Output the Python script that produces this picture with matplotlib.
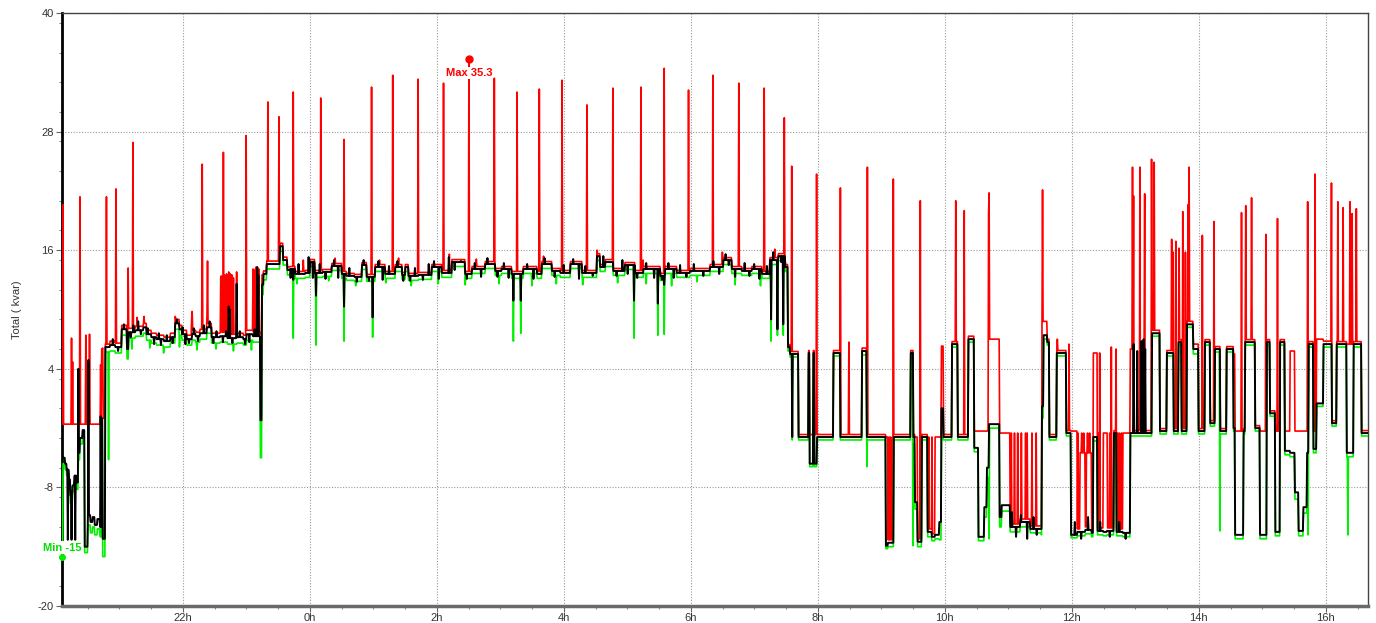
import numpy as np
import matplotlib
matplotlib.use("Agg")
import matplotlib.pyplot as plt
from matplotlib.ticker import MultipleLocator, FixedLocator, FuncFormatter

# ---------------------------------------------------------------------------
# Reactive power, total (kvar).  Time in hours; values past 24 are next day.
# Step knots: each value holds until the next knot time.
# ---------------------------------------------------------------------------
knot_hour = [
    # evening, unsettled
    20.098, 20.110, 20.140, 20.170, 20.200, 20.230, 20.260, 20.290, 20.320, 20.350,
    20.380, 20.420, 20.455, 20.500, 20.540, 20.580, 20.610, 20.650, 20.690, 20.720,
    20.735, 20.775,
    # evening plateau
    20.850, 20.932, 21.038, 21.117, 21.140, 21.250, 21.378, 21.431, 21.500, 21.589,
    21.700, 21.800, 21.877, 21.940, 21.982, 22.061, 22.140, 22.200, 22.271, 22.376,
    22.455, 22.586, 22.700, 22.849, 22.950, 23.006, 23.100, 23.216, 23.240, 23.268,
    23.321, 23.531, 23.573, 23.640,
    # night plateau
    23.688, 23.766, 23.924, 24.003, 24.081, 24.200, 24.344, 24.501, 24.580, 24.700,
    24.816, 24.895, 25.026, 25.184, 25.341, 25.451, 25.500, 25.551, 25.709, 25.919,
    26.076, 26.234, 26.443, 26.548, 26.758, 26.916, 27.021, 27.178, 27.363, 27.573,
    27.652, 27.809, 27.940, 28.098, 28.282, 28.518, 28.570, 28.650, 28.780, 28.964,
    29.121, 29.253, 29.515, 29.594, 29.777, 29.987, 30.302, 30.512, 30.644, 30.801,
    30.958, 31.116, 31.247, 31.380, 31.483,
    # daytime switching
    31.525, 31.560, 31.693, 31.855, 31.870, 31.930, 31.940, 31.982, 32.245, 32.350,
    32.690, 32.770, 33.068, 33.100, 33.190, 33.462, 33.504, 33.530, 33.572, 33.636,
    33.730, 33.793, 33.846, 33.910, 33.940, 33.977, 34.108, 34.203, 34.370, 34.460,
    34.528, 34.617, 34.659, 34.690, 34.858, 34.895, 35.026, 35.184, 35.341, 35.525,
    35.551, 35.614, 35.646, 35.761, 35.908, 35.982, 36.087, 36.129, 36.207, 36.223,
    36.312, 36.339, 36.402, 36.496, 36.548, 36.664, 36.706, 36.800, 36.916, 36.968,
    37.257, 37.388, 37.493, 37.598, 37.677, 37.730, 37.808, 37.913, 37.992, 38.097,
    38.175, 38.254, 38.333, 38.438, 38.543, 38.569, 38.700, 38.727, 38.884, 38.963,
    39.068, 39.120, 39.199, 39.278, 39.356, 39.435, 39.514, 39.566, 39.645, 39.698,
    39.724, 39.803, 39.855, 39.960, 40.091, 40.170, 40.327, 40.433, 40.564,
]

knot_min = [
    -15.0, -5.6, -6.2, -6.8, -7.8, -9.6, -8.4, -7.4, -8.2, -5.2,
    -3.6, -2.8, -14.6, -11.8, -12.6, -12.0, -12.8, -12.2, -13.0, -1.6,
    -15.0, 5.7,
    5.8, 5.6, 7.4, 5.0, 7.1, 7.3, 7.6, 6.9, 6.6, 6.4,
    6.2, 6.6, 8.0, 7.4, 6.9, 6.4, 6.9, 6.7, 7.0, 7.6,
    6.6, 6.7, 6.5, 6.6, 6.4, 6.9, 6.7, -5.0, 11.5, 13.0,
    14.1, 15.9, 14.5, 13.5,
    13.65, 13.15, 13.25, 14.35, 13.25, 13.35, 13.95, 13.15, 12.95, 12.85,
    14.05, 12.85, 13.85, 13.15, 13.85, 13.05, 13.85, 12.95, 13.05, 13.85,
    13.25, 14.35, 13.15, 13.65, 14.15, 13.45, 13.65, 13.15, 13.65, 13.15,
    14.15, 13.45, 13.25, 14.15, 13.25, 14.95, 13.85, 14.35, 13.45, 14.05,
    13.25, 13.65, 12.95, 13.65, 13.25, 13.45, 13.85, 14.55, 13.65, 13.45,
    13.65, 13.15, 14.55, 14.95, 13.85,
    5.8, 5.2, -3.2, 5.3, -5.9, 5.3, -5.9, -3.2, 5.3, -3.2,
    5.4, -3.2, -14.2, -14.0, -3.2, 5.3, -3.6, -10.2, -14.0, -3.2,
    -13.0, -13.4, -13.2, -13.3, -3.0, -3.2, 6.2, -3.2, 6.7, -4.4,
    -13.4, -11.0, -7.0, -2.0, -12.0, -10.4, -12.5, -12.0, -12.6, -1.0,
    7.0, 6.4, -3.2, 5.3, -2.8, -13.1, -12.9, -12.9, -12.7, -12.7,
    -13.0, -3.3, -12.8, -12.9, -12.8, -2.8, -12.9, -13.0, -2.8, -2.8,
    7.3, -2.6, 5.3, -2.6, 6.4, -2.6, 8.2, 5.5, -2.6, 6.4,
    -1.8, 5.7, -2.6, 5.7, -2.3, -13.2, -2.6, 6.4, -2.3, -13.2,
    6.4, -0.8, -12.9, 6.4, -4.7, -4.9, -9.2, -12.9, -10.6, -5.2,
    6.2, -4.5, 0.2, 6.2, -1.8, 6.2, -4.9, 6.2, -2.8,
]

knot_avg = [
    -4.8, -5.0, -5.6, -6.2, -7.2, -8.8, -7.8, -6.8, -7.5, -4.5,
    -3.0, -2.2, -14.0, -10.8, -11.5, -11.0, -11.8, -11.2, -12.0, -1.0,
    -13.2, 6.2,
    6.4, 6.2, 8.0, 6.0, 7.7, 7.9, 8.2, 7.5, 7.2, 7.0,
    6.8, 7.2, 8.6, 8.0, 7.5, 7.0, 7.5, 7.3, 7.6, 8.2,
    7.2, 7.3, 7.1, 7.2, 7.0, 7.5, 7.3, -1.2, 12.5, 13.6,
    14.6, 16.4, 15.0, 14.0,
    14.1, 13.6, 13.7, 14.8, 13.7, 13.8, 14.4, 13.6, 13.4, 13.3,
    14.5, 13.3, 14.3, 13.6, 14.3, 13.5, 14.3, 13.4, 13.5, 14.3,
    13.7, 14.8, 13.6, 14.1, 14.6, 13.9, 14.1, 13.6, 14.1, 13.6,
    14.6, 13.9, 13.7, 14.6, 13.7, 15.4, 14.3, 14.8, 13.9, 14.5,
    13.7, 14.1, 13.4, 14.1, 13.7, 13.9, 14.3, 15.0, 14.1, 13.9,
    14.1, 13.6, 15.0, 15.4, 14.3,
    6.2, 5.5, -2.9, 5.6, -5.6, 5.6, -5.6, -2.9, 5.6, -2.9,
    5.8, -2.9, -13.9, -13.6, -2.9, 5.6, -2.9, -9.5, -13.5, -2.9,
    -12.5, -13.0, -12.8, -11.5, 0.0, -2.9, 6.5, -2.9, 7.0, -4.0,
    -13.0, -10.0, -6.0, -1.6, -11.0, -9.8, -12.0, -11.5, -12.2, 0.2,
    7.4, 6.7, -2.9, 5.6, -2.5, -12.8, -12.5, -12.5, -12.3, -12.3,
    -12.6, -2.9, -12.4, -12.5, -12.4, -2.5, -12.5, -12.6, -2.5, -2.5,
    7.6, -2.3, 5.6, -2.3, 6.7, -2.3, 8.5, 6.0, -2.3, 6.7,
    -1.5, 6.0, -2.3, 6.0, -2.0, -12.8, -2.3, 6.7, -2.0, -12.8,
    6.7, -0.5, -12.5, 6.7, -4.3, -4.5, -8.5, -12.4, -10.0, -4.5,
    6.5, -4.1, 0.5, 6.5, -1.5, 6.5, -4.5, 6.5, -2.5,
]

knot_max = [
    -1.6, -1.6, -1.6, -1.6, -1.6, -1.6, -1.6, -1.6, -1.6, -1.6,
    -1.6, -1.6, -1.6, -1.6, -1.6, -1.6, -1.6, -1.6, -1.6, 6.0,
    -1.0, 6.5,
    6.8, 6.6, 8.4, 6.4, 8.1, 8.3, 8.6, 7.9, 7.6, 7.4,
    7.2, 7.6, 9.0, 8.4, 7.9, 7.4, 7.9, 7.7, 8.0, 8.6,
    7.6, 7.7, 7.5, 7.6, 7.4, 7.9, 7.7, 7.5, 13.5, 13.9,
    14.9, 16.7, 15.3, 14.3,
    14.35, 13.85, 13.95, 15.05, 13.95, 14.05, 14.65, 13.85, 13.65, 13.55,
    14.75, 13.55, 14.55, 13.85, 14.55, 13.75, 14.55, 13.65, 13.75, 14.55,
    13.95, 15.05, 13.85, 14.35, 14.85, 14.15, 14.35, 13.85, 14.35, 13.85,
    14.85, 14.15, 13.95, 14.85, 13.95, 15.65, 14.55, 15.05, 14.15, 14.75,
    13.95, 14.35, 13.65, 14.35, 13.95, 14.15, 14.55, 15.25, 14.35, 14.15,
    14.35, 13.85, 15.25, 15.65, 14.55,
    6.45, 5.75, -2.65, 5.85, -2.65, 5.85, -2.65, -2.65, 5.85, -2.65,
    6.1, -2.65, -2.9, -13.3, -2.65, 5.85, -2.65, -2.9, -13.2, -2.65,
    -12.2, -12.7, -2.9, -2.9, 6.3, -2.65, 6.75, -2.65, 7.3, -2.3,
    -2.3, -2.3, -2.3, 7.0, -2.5, -2.5, -11.7, -11.2, -11.9, 8.8,
    8.8, 7.0, -2.65, 5.85, -2.25, -2.3, -12.2, -4.5, -12.0, -4.5,
    -12.3, 5.6, -12.1, -2.5, -12.1, -2.25, -12.2, -2.5, 6.0, -2.25,
    7.9, -2.05, 5.85, -2.05, 6.95, -2.05, 8.8, 6.5, -2.05, 6.95,
    -1.25, 6.25, -2.05, 6.25, 5.5, -2.3, -2.05, 6.95, -1.75, -2.3,
    6.95, -0.25, -2.3, 6.95, -2.3, 5.8, -2.3, -2.3, -2.3, -2.3,
    6.75, -2.3, 7.0, 6.8, -1.25, 6.75, 6.5, 6.75, -2.25,
]

# Short-lived peaks of the maximum trace (hour, kvar)
peak_hour = [
    20.118, 20.250, 20.266, 20.381, 20.476, 20.528, 20.707, 20.739, 20.802, 20.948,
    21.142, 21.211, 21.390, 21.880, 22.145, 22.307, 22.392, 22.600, 22.638, 22.660,
    22.720, 22.750, 22.849, 22.995, 23.110, 23.150, 23.200, 23.342, 23.515, 23.740,
    24.176, 24.540, 24.970, 25.310, 25.710, 26.110, 26.507, 26.906, 27.268, 27.614,
    27.972, 28.361, 28.770, 29.211, 29.583, 29.961, 30.345, 30.754, 31.157, 31.472,
    31.589, 31.982, 32.354, 32.490, 32.779, 33.189, 33.614, 34.172, 34.307, 34.690,
    34.701, 35.541, 36.958, 36.969, 37.074, 37.152, 37.257, 37.299, 37.572, 37.598,
    37.640, 37.688, 37.745, 37.787, 37.829, 37.850, 38.060, 38.238, 38.674, 38.742,
    38.832, 39.057, 39.241, 39.713, 39.834, 40.091, 40.186, 40.275, 40.380, 40.412,
    40.485, 35.770, 35.960, 36.620, 36.700, 37.140, 22.610, 22.670, 22.690, 22.735,
    22.770, 22.800, 23.125, 23.160, 23.180,
]
peak_value = [
    20.6, 7.1, 4.7, 21.4, 7.4, 7.5, 4.4, 6.1, 21.4, 22.2,
    14.2, 26.9, 9.3, 9.3, 9.8, 24.7, 14.9, 13.2, 25.9, 13.5,
    13.8, 13.6, 13.8, 27.6, 14.1, 14.2, 14.1, 31.0, 29.5, 32.0,
    31.4, 27.2, 32.5, 33.7, 33.3, 32.9, 35.3, 33.4, 32.0, 32.3,
    33.2, 30.7, 32.4, 32.5, 34.4, 32.2, 33.7, 32.9, 32.4, 29.4,
    24.5, 23.7, 22.3, 6.7, 24.4, 23.2, 21.0, 21.0, 20.0, 19.7,
    21.8, 22.1, 24.4, 21.5, 24.4, 21.7, 25.2, 24.9, 17.1, 15.8,
    16.9, 16.2, 19.9, 15.8, 20.6, 24.4, 17.5, 18.9, 19.8, 20.5,
    21.3, 17.6, 19.2, 20.9, 23.7, 22.8, 20.9, 20.3, 20.9, 19.7,
    20.2, 7.0, 6.5, 6.2, 6.0, 7.1, 13.4, 13.3, 13.6, 13.7,
    13.5, 13.2, 14.0, 14.3, 13.9,
]

# Small upward ripples of the maximum trace
max_ripple_hour = [
    21.28, 21.88, 22.14, 22.38, 23.00, 23.90, 24.40, 25.10, 25.40, 26.20,
    26.62, 27.68, 28.52, 29.25, 30.50, 31.32, 33.12, 33.15, 33.75, 33.80,
    35.05, 35.10, 35.15, 35.21, 35.27, 35.30, 35.37, 35.44, 36.10, 36.16,
    36.19, 36.25, 36.28, 36.42, 36.44, 36.56, 36.60, 36.72, 36.75, 36.78,
]
max_ripple_value = [
    9.2, 9.5, 9.0, 9.4, 8.9, 15.0, 15.2, 15.0, 15.2, 15.6,
    15.1, 15.4, 16.0, 15.0, 15.8, 16.1, -2.9, -2.9, -2.9, -2.9,
    -2.5, -2.5, -2.5, -2.5, -2.5, -2.5, -2.5, -2.5, -2.5, -2.5,
    -2.5, -2.5, -2.5, -2.5, 5.6, -2.5, -2.5, -2.5, -2.5, -2.5,
]

# Short-lived dips of the minimum trace
dip_hour = [
    20.830, 23.740, 24.098, 24.540, 24.990, 27.205, 27.326, 29.105, 29.479, 29.578,
    31.263, 31.362, 31.457, 31.600, 32.770, 33.500, 34.700, 35.520, 38.333, 39.720,
    40.350,
    21.20, 21.48, 21.70, 21.95, 22.22, 22.52, 22.80, 23.08, 23.80, 24.30,
    24.72, 25.20, 25.60, 26.02, 26.45, 26.98, 27.50, 27.88, 28.30, 28.85,
    29.30, 29.70, 30.10, 30.70, 31.10,
]
dip_value = [
    -5.2, 7.1, 6.4, 6.8, 7.2, 6.8, 7.6, 7.1, 7.4, 7.5,
    6.8, 7.4, 7.4, -3.2, -5.9, -13.9, -13.2, -12.8, -12.4, -12.8,
    -12.8,
    6.0, 6.1, 5.6, 6.2, 5.9, 6.0, 5.8, 5.9, 12.6, 12.9,
    12.4, 12.7, 12.4, 12.6, 12.5, 12.6, 12.4, 12.6, 12.5, 12.7,
    12.6, 12.4, 12.8, 12.5, 12.4,
]

# Short-lived excursions of the average trace
avg_spike_hour = [
    20.190, 20.250, 20.310, 20.360, 20.513, 20.710, 22.720, 22.740, 22.849, 23.170,
    23.190, 23.740, 24.098, 24.540, 24.990, 27.205, 27.326, 29.105, 29.479, 29.578,
    31.263, 31.362, 31.457, 31.600, 36.970, 37.030, 37.100, 37.130, 37.160,
]
avg_spike_value = [
    -13.3, -13.3, -13.3, 4.0, 4.9, -0.8, 10.3, 10.0, 12.6, 14.3,
    13.5, 13.0, 11.4, 10.3, 9.2, 10.9, 10.9, 10.9, 10.6, 12.5,
    9.0, 8.0, 8.5, -2.9, 6.5, 5.8, 6.8, 7.0, 6.0,
]

# Small ripples of the average trace
avg_ripple_hour = [
    20.90, 20.98, 21.07, 21.18, 21.22, 21.30, 21.34, 21.45, 21.55, 21.62,
    21.66, 21.75, 21.84, 21.91, 22.00, 22.04, 22.10, 22.17, 22.24, 22.33,
    22.42, 22.48, 22.53, 22.63, 22.68, 22.78, 22.90, 22.98, 23.05, 23.13,
    23.70, 23.82, 23.98, 24.05, 24.16, 24.25, 24.38, 24.45, 24.62, 24.74,
    24.85, 24.93, 25.08, 25.15, 25.25, 25.38, 25.47, 25.58, 25.66, 25.78,
    25.87, 25.96, 26.03, 26.19, 26.28, 26.38, 26.47, 26.60, 26.70, 26.80,
    26.96, 27.06, 27.13, 27.42, 27.52, 27.70, 27.86, 28.00, 28.15, 28.24,
    28.34, 28.46, 28.62, 28.83, 28.92, 29.01, 29.16, 29.30, 29.42, 29.55,
    29.65, 29.73, 29.83, 29.93, 30.05, 30.20, 30.36, 30.45, 30.55, 30.60,
    30.70, 30.85, 30.92, 31.00, 31.08, 31.20, 31.30, 31.42,
    35.06, 35.12, 35.20, 35.30, 35.40, 35.45, 36.05, 36.15, 36.26, 36.45,
    36.60, 36.75, 36.85,
]
avg_ripple_value = [
    7.0, 5.8, 8.5, 7.2, 8.4, 8.8, 7.5, 8.1, 6.5, 7.6,
    6.4, 7.4, 6.6, 9.0, 8.2, 6.5, 6.6, 8.1, 6.8, 8.4,
    8.8, 6.6, 7.8, 6.7, 7.8, 6.6, 7.8, 6.5, 6.7, 8.0,
    13.2, 14.6, 15.3, 13.2, 14.6, 13.1, 15.0, 13.2, 14.2, 12.8,
    15.0, 12.9, 14.9, 13.0, 14.4, 14.9, 12.9, 12.9, 14.2, 13.0,
    14.6, 14.9, 13.1, 15.3, 14.0, 14.9, 13.1, 14.7, 13.3, 15.2,
    13.3, 14.7, 13.2, 14.6, 13.1, 15.2, 13.3, 14.5, 15.1, 13.1,
    14.4, 13.4, 15.4, 13.4, 15.0, 13.6, 13.2, 14.7, 13.2, 13.0,
    14.7, 13.2, 14.5, 13.3, 14.6, 13.4, 14.9, 13.6, 15.6, 14.5,
    13.3, 14.7, 13.4, 14.6, 13.1, 14.4, 15.8, 14.8,
    -10.5, -13.0, -10.8, -13.2, -11.0, -12.8, -11.5, -13.2, -11.0, -11.5,
    -13.0, -11.5, -13.2,
]

max_point = (26.507, 35.3)
min_point = (20.100, -15.0)

assert len(knot_hour) == len(knot_min) == len(knot_avg) == len(knot_max)
assert len(peak_hour) == len(peak_value)
assert len(max_ripple_hour) == len(max_ripple_value)
assert len(dip_hour) == len(dip_value)
assert len(avg_spike_hour) == len(avg_spike_value)
assert len(avg_ripple_hour) == len(avg_ripple_value)

# ---------------------------------------------------------------------------
# Half-minute sampling of the recorded knots
# ---------------------------------------------------------------------------
t = np.arange(20.098, 40.665, 1.0 / 120.0)
kh = np.asarray(knot_hour)


def hold(values):
    idx = np.clip(np.searchsorted(kh, t, side="right") - 1, 0, len(kh) - 1)
    return np.asarray(values, dtype=float)[idx]


def with_spikes(series, hours, values):
    out = series.copy()
    for h, v in zip(hours, values):
        out[np.argmin(np.abs(t - h))] = v
    return out


s_max = with_spikes(hold(knot_max), max_ripple_hour, max_ripple_value)
s_max = with_spikes(s_max, peak_hour, peak_value)
s_min = with_spikes(hold(knot_min), dip_hour, dip_value)
s_avg = with_spikes(hold(knot_avg), avg_ripple_hour, avg_ripple_value)
s_avg = with_spikes(s_avg, avg_spike_hour, avg_spike_value)
s_min[0] = min_point[1]

# ---------------------------------------------------------------------------
plt.rcParams["font.family"] = ["Liberation Sans", "DejaVu Sans"]

W, H = 1376, 623
fig = plt.figure(figsize=(W / 100, H / 100), dpi=100)
ax = fig.add_axes([62 / W, 17 / H, (1368 - 62) / W, (606 - 13) / H])

ax.plot(t, s_max, color="#ff0000", lw=1.2, zorder=3)
ax.plot(t, s_min, color="#00f000", lw=1.2, zorder=3)
ax.plot(t, s_avg, color="#000000", lw=1.4, zorder=4)

ax.set_xlim(20.098, 40.665)
ax.set_ylim(-20, 40)

ax.xaxis.set_major_locator(FixedLocator(np.arange(22, 41, 2)))
ax.xaxis.set_minor_locator(MultipleLocator(0.5))
ax.xaxis.set_major_formatter(FuncFormatter(lambda v, p: f"{int(round(v)) % 24}h"))
ax.yaxis.set_major_locator(FixedLocator([-20, -8, 4, 16, 28, 40]))
ax.yaxis.set_minor_locator(MultipleLocator(3))
ax.yaxis.set_major_formatter(FuncFormatter(lambda v, p: f"{int(v)}"))

ax.grid(True, which="major", color="#9a9a9a", linestyle=(0, (1, 1.5)), linewidth=0.8)
ax.set_axisbelow(True)

ax.tick_params(axis="both", which="major", direction="out", length=4, width=0.8,
               color="#666666", labelsize=8, labelcolor="#333333", pad=2)
ax.tick_params(axis="x", which="major", pad=1)
ax.tick_params(axis="both", which="minor", direction="out", length=2.5, width=0.8,
               color="#888888")

ax.spines["left"].set_color("#000000")
ax.spines["left"].set_linewidth(2.0)
ax.spines["bottom"].set_color("#6a6a6a")
ax.spines["bottom"].set_linewidth(2.5)
for side in ("top", "right"):
    ax.spines[side].set_color("#444444")
    ax.spines[side].set_linewidth(1.0)

ax.set_ylabel("Total ( kvar)", fontsize=8, color="#333333")
ax.yaxis.set_label_coords(-(62 - 22) / (1368 - 62), 0.5)

# Extreme-value markers
ax.plot(*max_point, "o", color="#ff0000", ms=5, zorder=6, clip_on=False)
ax.annotate(f"Max {max_point[1]:.1f}", xy=max_point, xytext=(0, -9.5),
            textcoords="offset points", ha="center", va="center",
            color="#ff0000", fontsize=8, fontweight="bold", zorder=7,
            bbox=dict(boxstyle="square,pad=0.1", fc="white", ec="none"))

ax.plot(*min_point, "o", color="#00f000", ms=4, zorder=6, clip_on=False)
ax.annotate(f"Min {min_point[1]:.0f}", xy=min_point, xytext=(0, 6.5),
            textcoords="offset points", ha="center", va="center",
            color="#00e000", fontsize=8, fontweight="bold", zorder=7,
            annotation_clip=False,
            bbox=dict(boxstyle="square,pad=0.1", fc="white", ec="none"))

fig.savefig("out.png", dpi=100)
